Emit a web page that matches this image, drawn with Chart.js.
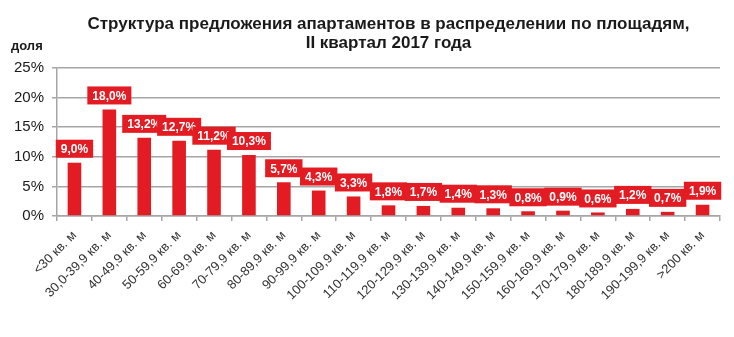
<!DOCTYPE html>
<html>
<head>
<meta charset="utf-8">
<script src="https://cdn.jsdelivr.net/npm/chart.js@4/dist/chart.umd.min.js"></script>
<style>
  html, body { margin: 0; padding: 0; background: #fff; }
  #wrap { width: 734px; height: 337px; }
</style>
</head>
<body>
<div id="wrap"><canvas id="c" width="734" height="337"></canvas></div>
<script>
// Size ranges of apartments on offer
const categories = [
  '<30 кв. м', '30,0-39,9 кв. м', '40-49,9 кв. м', '50-59,9 кв. м', '60-69,9 кв. м',
  '70-79,9 кв. м', '80-89,9 кв. м', '90-99,9 кв. м', '100-109,9 кв. м', '110-119,9 кв. м',
  '120-129,9 кв. м', '130-139,9 кв. м', '140-149,9 кв. м', '150-159,9 кв. м', '160-169,9 кв. м',
  '170-179,9 кв. м', '180-189,9 кв. м', '190-199,9 кв. м', '>200 кв. м'
];
// Share of supply, percent
const shares = [9.0, 18.0, 13.2, 12.7, 11.2, 10.3, 5.7, 4.3, 3.3, 1.8, 1.7, 1.4, 1.3, 0.8, 0.9, 0.6, 1.2, 0.7, 1.9];
// Value axis ticks, percent
const yTicks = [0, 5, 10, 15, 20, 25];

const titleLines = ['Структура предложения апартаментов в распределении по площадям,', 'II квартал 2017 года'];
const axisCaption = 'доля';

const RED = '#e31b23';
const GRID = '#a6a6a6';
const FONT = '"Liberation Sans", Arial, sans-serif';

const fmt = v => v.toFixed(1).replace('.', ',') + '%';

// Title and the small caption above the value axis
const headerPlugin = {
  id: 'header',
  afterDraw(chart) {
    const ctx = chart.ctx;
    const area = chart.chartArea;
    ctx.save();
    ctx.fillStyle = '#1a1a1a';
    ctx.font = 'bold 17px ' + FONT;
    ctx.textAlign = 'center';
    ctx.textBaseline = 'middle';
    const cx = (area.left + area.right) / 2;
    ctx.fillText(titleLines[0], cx, 24);
    ctx.fillText(titleLines[1], cx, 43);
    ctx.font = 'bold 13px ' + FONT;
    ctx.textAlign = 'left';
    ctx.fillText(axisCaption, 11, 46);
    ctx.restore();
  }
};

// Red value boxes above each bar, drawn in order so later boxes overlap earlier ones
const valueBoxPlugin = {
  id: 'valueBoxes',
  afterDatasetsDraw(chart) {
    const ctx = chart.ctx;
    const meta = chart.getDatasetMeta(0);
    const data = chart.data.datasets[0].data;
    ctx.save();
    ctx.font = 'bold 12px ' + FONT;
    ctx.textAlign = 'center';
    ctx.textBaseline = 'middle';
    meta.data.forEach((bar, i) => {
      const txt = fmt(data[i]);
      const w = ctx.measureText(txt).width + 10;
      const h = 18;
      const bottom = bar.y - 5;
      ctx.fillStyle = RED;
      ctx.fillRect(bar.x - w / 2, bottom - h, w, h);
      ctx.fillStyle = '#ffffff';
      ctx.fillText(txt, bar.x, bottom - h / 2 + 1);
    });
    ctx.restore();
  }
};

new Chart(document.getElementById('c'), {
  type: 'bar',
  data: {
    labels: categories,
    datasets: [{
      data: shares,
      backgroundColor: RED,
      borderWidth: 0,
      barPercentage: 0.39,
      categoryPercentage: 1.0
    }]
  },
  options: {
    responsive: false,
    animation: false,
    layout: { padding: { top: 68, right: 14, bottom: 0, left: 0 } },
    plugins: {
      legend: { display: false },
      title: { display: false },
      tooltip: { enabled: false }
    },
    scales: {
      x: {
        offset: true,
        grid: {
          offset: true,
          drawOnChartArea: false,
          drawTicks: true,
          tickLength: 5,
          color: GRID,
          lineWidth: 1.5
        },
        border: { color: GRID, width: 1.5 },
        ticks: {
          autoSkip: false,
          maxRotation: 45,
          minRotation: 45,
          padding: 7,
          color: '#333',
          font: { family: FONT, size: 13 }
        },
        afterFit(s) { s.height = 121; }
      },
      y: {
        min: 0,
        max: 25,
        afterBuildTicks(s) { s.ticks = yTicks.map(v => ({ value: v })); },
        grid: {
          color: GRID,
          lineWidth: 1.5,
          tickLength: 5
        },
        border: { color: GRID, width: 1.5 },
        ticks: {
          padding: 8,
          color: '#1a1a1a',
          font: { family: FONT, size: 15 },
          callback: v => v + '%'
        },
        afterFit(s) { s.width = 57; }
      }
    }
  },
  plugins: [headerPlugin, valueBoxPlugin]
});
</script>
</body>
</html>
